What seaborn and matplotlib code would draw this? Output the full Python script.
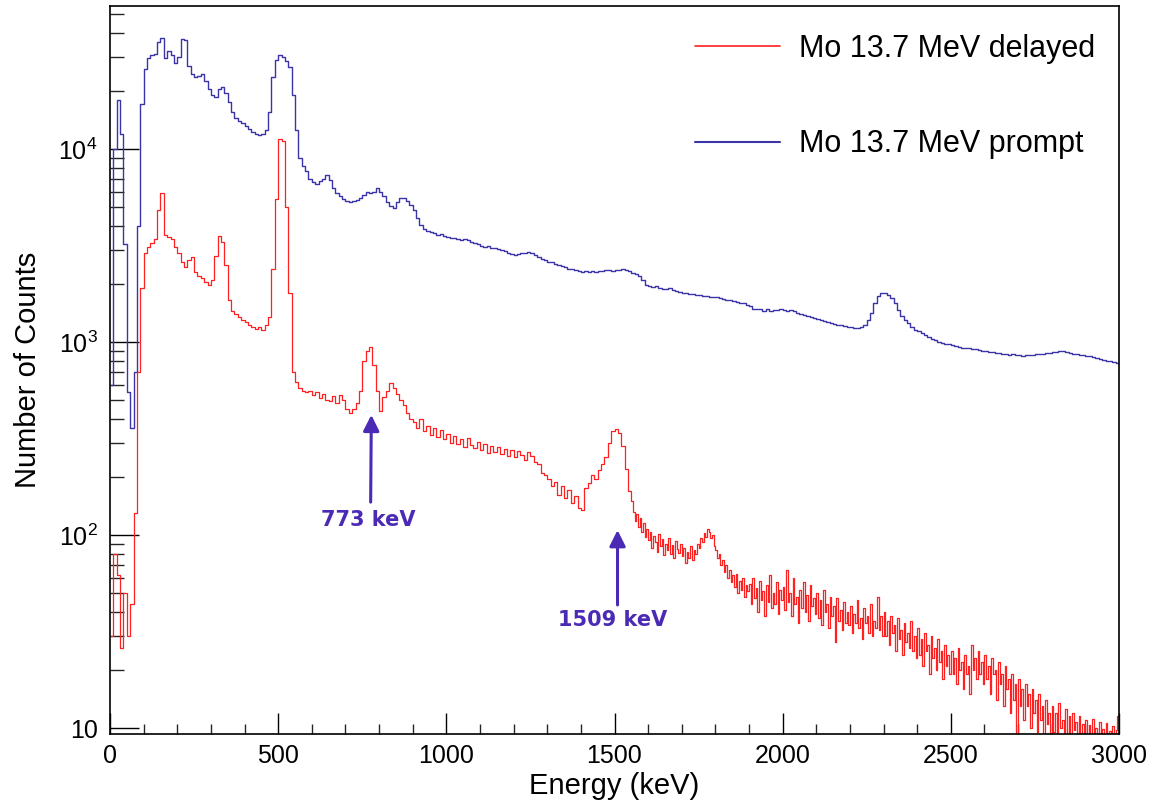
import numpy as np
import pandas as pd
import matplotlib
matplotlib.use("Agg")
import matplotlib.pyplot as plt
import seaborn as sns
from matplotlib.ticker import MultipleLocator, LogLocator, NullFormatter
from matplotlib.lines import Line2D

# ---------------- data ----------------
# prompt: 10 keV bins 0-3000 keV
prompt_edges = list(range(0, 3001, 10))
# delayed: 10 keV bins 0-1550 keV, 5 keV bins 1550-3000 keV
delayed_edges = list(range(0, 1550, 10)) + list(range(1550, 3001, 5))

delayed_counts_low = [
    30, 80, 62, 26, 50, 30, 44, 130, 700, 1900,
    2900, 3100, 3250, 3400, 4800, 5900, 3600, 3500, 3400, 3100,
    2900, 2600, 2450, 2650, 2750, 2300, 2200, 2150, 2050, 1980,
    2100, 2800, 3550, 3300, 2500, 1650, 1450, 1400, 1350, 1300,
    1270, 1220, 1200, 1170, 1190, 1160, 1230, 1350, 2400, 5500,
    11200, 11000, 5000, 1800, 700, 620, 580, 560, 550, 560,
    530, 550, 510, 540, 500, 495, 525, 485, 530, 500,
    450, 430, 450, 480, 560, 800, 900, 940, 760, 560,
    440, 520, 560, 610, 580, 540, 500, 470, 430, 400,
    385, 360, 398, 345, 368, 330, 358, 322, 348, 315,
    335, 300, 325, 296, 315, 286, 318, 292, 282, 303,
    275, 295, 265, 290, 268, 285, 262, 280, 258, 275,
    252, 272, 260, 246, 270, 256, 238, 232, 210, 205,
    195, 180, 188, 162, 180, 155, 170, 147, 160, 138,
    135, 175, 185, 205, 195, 218, 232, 255, 300, 345,
    352, 338, 290, 220, 168,
]
delayed_counts_high = [
    150, 132, 118, 128, 110, 122, 104, 116, 98, 108,
    94, 104, 86, 99, 92, 82, 101, 88, 95, 79, 90, 84, 97, 80, 89, 76, 93, 85, 81, 90,
    78, 86, 72, 82, 76, 88, 74, 84, 80, 90, 86, 96, 92, 102, 98, 108, 104, 96, 100, 88,
    84, 76, 80, 70, 74, 64, 70, 60, 66, 57, 62, 54, 63, 50, 58, 52, 60, 48, 55, 51,
    56, 44, 60, 47, 53, 40, 58, 46, 51, 38, 55, 45, 62, 42, 50, 44, 57, 39, 52, 46,
    54, 41, 66, 45, 50, 38, 60, 44, 48, 35, 52, 42, 57, 40, 49, 36, 55, 43, 47, 39,
    50, 37, 46, 34, 52, 40, 44, 33, 48, 38, 43, 28, 47, 36, 41, 32, 45, 35, 40, 34,
    43, 31, 39, 35, 46, 33, 37, 29, 42, 35, 38, 31, 44, 30, 36, 33, 48, 32, 38, 30,
    40, 30, 36, 27, 38, 31, 34, 25, 37, 29, 32, 24, 35, 28, 31, 26, 36, 25, 30, 23,
    33, 24, 29, 21, 31, 25, 27, 19, 30, 23, 26, 20, 29, 22, 25, 18, 27, 21, 24, 19,
    25, 19, 23, 17, 26, 20, 22, 16, 24, 19, 21, 15, 27, 20, 23, 18, 25, 19, 22, 17,
    24, 18, 21, 15, 23, 19, 20, 14, 22, 17, 19, 13, 21, 16, 18, 12, 19, 14, 17, 9,
    18, 13, 16, 11, 17, 13, 15, 10, 16, 12, 14, 9.5, 15, 11, 13, 9, 14, 10.5, 12, 8.5,
    13, 9.5, 12, 8.8, 13.5, 10, 11, 8.5, 12.5, 9.2, 11.5, 8.6, 12, 9.8, 10.8, 8.4, 11.6, 9.4, 10.5, 8.7,
    11, 8.6, 10.4, 8.3, 11.2, 9.2, 10, 8.4, 10.8, 8.8, 9.9, 8.2, 10.6, 9, 9.7, 8.5, 10.3, 8.7, 9.8, 11.5,
]

prompt_counts = [
    600, 10000, 18000, 12000, 3200, 550, 360, 700, 4000, 17000,
    26000, 29500, 30500, 31000, 36000, 37500, 29500, 32000, 30500, 28000,
    30000, 37000, 36500, 27000, 24500, 23500, 23800, 24500, 22500, 20500,
    19000, 18500, 20500, 21000, 19500, 17500, 15500, 14500, 14000, 13700,
    13200, 12700, 12200, 12000, 11800, 11900, 12600, 15500, 23500, 29000,
    30500, 30000, 28500, 26500, 19000, 12500, 9000, 8200, 7700, 7000,
    6700, 6600, 6800, 7000, 7300, 6900, 6300, 5900, 5700, 5500,
    5400, 5300, 5400, 5450, 5600, 5800, 6000, 5900, 6000, 6250,
    6000, 5700, 5300, 5050, 4950, 5300, 5550, 5550, 5400, 5100,
    4800, 4400, 4050, 3850, 3750, 3700, 3650, 3600, 3620, 3540,
    3500, 3470, 3440, 3420, 3380, 3400, 3360, 3300, 3250, 3200,
    3150, 3120, 3130, 3080, 3050, 3020, 3000, 2960, 2900, 2850,
    2830, 2860, 2880, 2900, 2920, 2880, 2820, 2750, 2700, 2650,
    2600, 2580, 2530, 2500, 2470, 2440, 2400, 2380, 2350, 2320,
    2300, 2320, 2310, 2330, 2300, 2340, 2320, 2350, 2360, 2340,
    2370, 2360, 2380, 2350, 2320, 2280, 2250, 2200, 2100, 1980,
    1950, 1920, 1940, 1900, 1880, 1870, 1900, 1860, 1840, 1820,
    1800, 1790, 1780, 1770, 1760, 1750, 1740, 1720, 1700, 1710,
    1700, 1680, 1660, 1650, 1640, 1630, 1610, 1600, 1590, 1560,
    1530, 1490, 1475, 1490, 1455, 1480, 1445, 1470, 1465, 1480,
    1460, 1450, 1470, 1440, 1420, 1400, 1380, 1360, 1350, 1330,
    1310, 1300, 1280, 1270, 1250, 1240, 1230, 1220, 1210, 1200,
    1190, 1180, 1175, 1190, 1230, 1300, 1420, 1600, 1740, 1790,
    1800, 1760, 1690, 1600, 1470, 1360, 1300, 1250, 1200, 1160,
    1140, 1110, 1080, 1060, 1040, 1020, 1000, 990, 980, 970,
    960, 950, 940, 935, 930, 925, 920, 915, 905, 900,
    895, 890, 885, 880, 875, 870, 865, 860, 862, 858,
    855, 850, 855, 860, 858, 862, 865, 870, 875, 880,
    885, 890, 895, 900, 890, 880, 870, 865, 860, 855,
    850, 845, 840, 830, 820, 810, 800, 795, 785, 780,
]

series_labels = ["Mo 13.7 MeV delayed", "Mo 13.7 MeV prompt"]
peak_labels = ["773 keV", "1509 keV"]
peak_energies = [773, 1509]

y_tick_values = [10, 100, 1000, 10000]
y_tick_labels = ["10", r"$10^{2}$", r"$10^{3}$", r"$10^{4}$"]

# ---------------- style ----------------
sns.set_theme(style="white")
plt.rcParams["font.family"] = ["Liberation Sans", "DejaVu Sans"]
plt.rcParams["mathtext.fontset"] = "custom"
plt.rcParams["mathtext.rm"] = "Liberation Sans"
plt.rcParams["mathtext.it"] = "Liberation Sans:italic"
plt.rcParams["mathtext.bf"] = "Liberation Sans:bold"
plt.rcParams["text.color"] = "black"
plt.rcParams["axes.labelcolor"] = "black"

red_c = "#ff2020"
blue_c = "#3a34a8"
purple = "#4b2bb5"


def centers_of(edges):
    return [(edges[i] + edges[i + 1]) / 2 for i in range(len(edges) - 1)]


df_prompt = pd.DataFrame({"energy": centers_of(prompt_edges), "counts": prompt_counts})
df_delayed = pd.DataFrame({"energy": centers_of(delayed_edges),
                           "counts": delayed_counts_low + delayed_counts_high})

fig = plt.figure(figsize=(11.55, 8.01), dpi=100)
ax = fig.add_axes([110 / 1155, 1 - 734 / 801, (1119 - 110) / 1155, (734 - 6) / 801])

sns.histplot(data=df_prompt, x="energy", weights="counts", bins=prompt_edges,
             element="step", fill=False, color=blue_c, linewidth=1.0, ax=ax)
sns.histplot(data=df_delayed, x="energy", weights="counts", bins=delayed_edges,
             element="step", fill=False, color=red_c, linewidth=0.9, ax=ax)

ax.set_yscale("log")
ax.set_xlim(0, 3000)
ax.set_ylim(9.31, 55000)

# ticks (ROOT style: inside, left/bottom only)
ax.xaxis.set_major_locator(MultipleLocator(500))
ax.xaxis.set_minor_locator(MultipleLocator(100))
ax.set_yticks(y_tick_values)
ax.set_yticklabels(y_tick_labels)
ax.yaxis.set_minor_locator(LogLocator(base=10, subs=np.arange(2, 10)))
ax.yaxis.set_minor_formatter(NullFormatter())
ax.tick_params(axis="y", which="major", direction="in", length=21, width=1.0,
               left=True, right=False, labelsize=18, pad=9, colors="black")
ax.tick_params(axis="y", which="minor", direction="in", length=10, width=1.0,
               left=True, right=False)
ax.tick_params(axis="x", which="major", direction="in", length=15, width=1.0,
               bottom=True, top=False, labelsize=18, pad=7, colors="black")
ax.tick_params(axis="x", which="minor", direction="in", length=7.5, width=1.0,
               bottom=True, top=False)

for s in ax.spines.values():
    s.set_color("black")
    s.set_linewidth(1.2)

ax.set_xlabel("Energy (keV)", fontsize=21, labelpad=3, color="black")
ax.set_ylabel("Number of Counts", fontsize=21, labelpad=12, color="black")

# legend
handles = [Line2D([0], [0], color=red_c, lw=1.2),
           Line2D([0], [0], color=blue_c, lw=1.5)]
leg = ax.legend(handles, series_labels, frameon=False, fontsize=22,
                loc="upper left", bbox_to_anchor=(0.553, 1.0),
                handlelength=2.75, handletextpad=0.65, labelspacing=2.15)
for t in leg.get_texts():
    t.set_color("black")

# annotations
ax.annotate("", xy=(peak_energies[0] + 4, 419), xytext=(peak_energies[0] + 2, 148),
            arrowprops=dict(arrowstyle="-|>", color=purple, lw=2.2,
                            mutation_scale=24, shrinkA=0, shrinkB=0))
ax.text(768, 120, peak_labels[0], ha="center", va="center",
        fontsize=15, fontweight="bold", color=purple, family="DejaVu Sans")

ax.annotate("", xy=(peak_energies[1], 106), xytext=(peak_energies[1], 43.4),
            arrowprops=dict(arrowstyle="-|>", color=purple, lw=2.2,
                            mutation_scale=24, shrinkA=0, shrinkB=0))
ax.text(1494, 36.3, peak_labels[1], ha="center", va="center",
        fontsize=15, fontweight="bold", color=purple, family="DejaVu Sans")

fig.savefig("out.png", dpi=100)
